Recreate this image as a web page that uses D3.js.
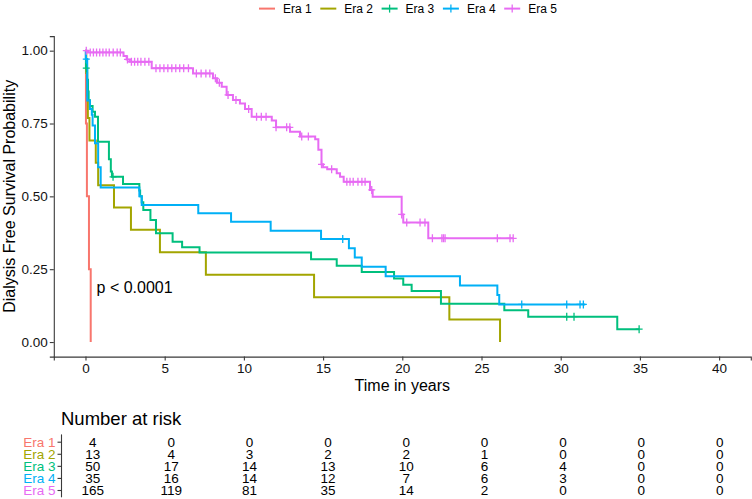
<!DOCTYPE html>
<html>
<head>
<meta charset="utf-8">
<script src="https://cdn.jsdelivr.net/npm/d3@7"></script>
<style>
  body { margin: 0; background: #fff; }
  svg { font-family: "Liberation Sans", Arial, sans-serif; }
</style>
</head>
<body>
<svg id="chart" width="752" height="499"></svg>
<script>
var eras = ["Era 1", "Era 2", "Era 3", "Era 4", "Era 5"];
var colors = ["#F8766D", "#A3A500", "#00BF7D", "#00B0F6", "#E76BF3"];

var times1 = [0, 0.03, 0.09, 0.22, 0.33];
var surv1 = [1, 0.75, 0.5, 0.25, 0];
var censor1 = [];

var times2 = [0, 0.05, 0.1, 0.15, 0.25, 0.65, 0.8, 1.8, 2.87, 4.7, 7.6, 14.43, 22.97, 26.17];
var surv2 = [1, 0.923, 0.846, 0.769, 0.692, 0.615, 0.538, 0.462, 0.385, 0.308, 0.231, 0.154, 0.077, 0];
var censor2 = [];

var times3 = [0, 0.03, 0.11, 0.16, 0.2, 0.28, 0.45, 0.6, 0.79, 1.48, 1.6, 1.67, 2.37, 3.4, 3.45, 3.55, 3.65, 4.1, 4.45,
  5.5, 6.1, 7.2, 14.24, 15.86, 17.44, 19.48, 20.06, 20.59, 22.44, 26.44, 27.95, 33.57, 34.95];
var surv3 = [1, 0.94, 0.9, 0.86, 0.83, 0.81, 0.79, 0.773, 0.687, 0.627, 0.585, 0.567, 0.542, 0.52, 0.5, 0.48, 0.453, 0.419, 0.373,
  0.344, 0.325, 0.307, 0.284, 0.262, 0.24, 0.218, 0.197, 0.175, 0.131, 0.109, 0.087, 0.044, 0.044];
var censor3 = [0.05, 1.74, 30.38, 30.84, 34.95];

var times4 = [0, 0.02, 0.11, 0.28, 0.4, 0.45, 0.6, 0.8, 0.96, 3.4, 3.55, 7.12, 9.19, 11.69, 14.87, 16.63, 17.0, 17.44,
  18.95, 23.64, 26.0, 26.12, 31.55];
var surv4 = [1, 0.971, 0.829, 0.8, 0.78, 0.743, 0.682, 0.6, 0.53, 0.5, 0.47, 0.442, 0.413, 0.382, 0.354, 0.322, 0.29, 0.258,
  0.226, 0.194, 0.161, 0.129, 0.129];
var censor4 = [0.05, 16.24, 27.54, 30.38, 31.22, 31.43];

var times5 = [0, 0.16, 2.4, 2.6, 2.8, 4.18, 6.79, 8.05, 8.3, 8.6, 8.91, 9.31, 9.75, 10.07, 10.49, 11.76, 12.03, 12.91,
  13.54, 14.5, 14.7, 14.9, 15.0, 15.26, 15.86, 16.07, 16.3, 17.96, 18.13, 19.96, 20.06, 21.64, 27.0];
var surv5 = [1, 0.994, 0.982, 0.97, 0.962, 0.94, 0.922, 0.905, 0.89, 0.876, 0.848, 0.831, 0.819, 0.8, 0.773, 0.76, 0.737, 0.722,
  0.705, 0.696, 0.66, 0.61, 0.6, 0.593, 0.579, 0.567, 0.55, 0.522, 0.499, 0.438, 0.41, 0.356, 0.356];
var censor5 = [0.05, 0.3, 0.5, 0.7, 0.9, 1.1, 1.3, 1.5, 1.75, 2.0, 2.2, 2.65, 2.9, 3.1, 3.3, 3.5, 3.75, 4.0, 4.45, 4.7,
  4.95, 5.2, 5.45, 5.7, 5.95, 6.2, 6.5, 7.0, 7.3, 7.6, 7.85, 8.2, 8.45, 9.0, 9.5, 10.3, 10.8, 11.1, 11.4, 12.03, 12.7,
  12.9, 13.65, 14.07, 14.9, 15.54, 16.5, 16.7, 16.9, 17.2, 17.45, 17.65, 18.07, 19.96, 20.28, 21.12, 21.43, 21.9, 22.5,
  22.6, 22.7, 26.0, 26.8, 27.0];

var xTicks = [0, 5, 10, 15, 20, 25, 30, 35, 40];
var yTicks = [0, 0.25, 0.5, 0.75, 1];

var risk1 = [4, 0, 0, 0, 0, 0, 0, 0, 0];
var risk2 = [13, 4, 3, 2, 2, 1, 0, 0, 0];
var risk3 = [50, 17, 14, 13, 10, 6, 4, 0, 0];
var risk4 = [35, 16, 14, 12, 7, 6, 3, 0, 0];
var risk5 = [165, 119, 81, 35, 14, 2, 0, 0, 0];

var curves = [
  {times: times1, surv: surv1, censor: censor1},
  {times: times2, surv: surv2, censor: censor2},
  {times: times3, surv: surv3, censor: censor3},
  {times: times4, surv: surv4, censor: censor4},
  {times: times5, surv: surv5, censor: censor5}
];
var risks = [risk1, risk2, risk3, risk4, risk5];

var svg = d3.select("#chart");
var axisCol = "#3a3a3a";

var x = d3.scaleLinear().domain([-2, 42]).range([53.8, 750.8]);
var y = d3.scaleLinear().domain([-0.05, 1.05]).range([356.6, 36.1]);

function survAt(c, t) {
  var i = d3.bisectRight(c.times, t) - 1;
  return c.surv[Math.max(i, 0)];
}

// axes
var xAxis = svg.append("g")
  .attr("transform", "translate(0," + y(-0.05) + ")")
  .call(d3.axisBottom(x).tickValues(xTicks).tickSize(4).tickPadding(3));
var yAxis = svg.append("g")
  .attr("transform", "translate(" + x(-2) + ",0)")
  .call(d3.axisLeft(y).tickValues(yTicks).tickSize(4).tickPadding(2).tickFormat(d3.format(".2f")));

[xAxis, yAxis].forEach(function(a) {
  a.select(".domain").attr("stroke", axisCol).attr("stroke-width", 1.1);
  a.selectAll(".tick line").attr("stroke", axisCol).attr("stroke-width", 1.1);
  a.selectAll(".tick text").attr("fill", "#111").style("font-size", "13.5px").style("font-family", "Liberation Sans, Arial, sans-serif");
});

svg.append("text")
  .attr("x", (x(-2) + x(42)) / 2)
  .attr("y", 391)
  .attr("text-anchor", "middle")
  .style("font-size", "16px")
  .text("Time in years");

svg.append("text")
  .attr("transform", "translate(14.5," + y(0.5) + ") rotate(-90)")
  .attr("text-anchor", "middle")
  .style("font-size", "16px")
  .text("Dialysis Free Survival Probability");

// survival curves
var line = d3.line()
  .x(function(d) { return x(d[0]); })
  .y(function(d) { return y(d[1]); })
  .curve(d3.curveStepAfter);

curves.forEach(function(c, i) {
  var pts = c.times.map(function(t, j) { return [t, c.surv[j]]; });
  svg.append("path")
    .attr("d", line(pts))
    .attr("fill", "none")
    .attr("stroke", colors[i])
    .attr("stroke-width", 2);
});

curves.forEach(function(c, i) {
  svg.append("g")
    .selectAll("path")
    .data(c.censor)
    .enter()
    .append("path")
    .attr("d", function(t) {
      var cx = x(t), cy = y(survAt(c, t));
      return "M" + (cx - 3.5) + "," + cy + "H" + (cx + 3.5) + "M" + cx + "," + (cy - 4) + "V" + (cy + 4);
    })
    .attr("stroke", colors[i])
    .attr("stroke-width", 1.3);
});

svg.append("text")
  .attr("x", x(0.7))
  .attr("y", y(0.17))
  .style("font-size", "16px")
  .text("p < 0.0001");

// legend
var legend = svg.append("g").selectAll("g")
  .data(eras)
  .enter()
  .append("g")
  .attr("transform", function(d, i) { return "translate(" + (259 + i * 61.3) + ",8.6)"; });
legend.append("line")
  .attr("x1", 0).attr("x2", 16)
  .attr("stroke", function(d, i) { return colors[i]; })
  .attr("stroke-width", 2);
legend.filter(function(d, i) { return curves[i].censor.length > 0; })
  .append("path")
  .attr("d", "M8,-4V4")
  .attr("stroke", function(d) { return colors[eras.indexOf(d)]; })
  .attr("stroke-width", 1.3);
legend.append("text")
  .attr("x", 24)
  .attr("y", 4.2)
  .style("font-size", "12px")
  .text(function(d) { return d; });

// number at risk table
var xt = d3.scaleLinear().domain([-2, 42]).range([61.5, 751]);
var yt = d3.scalePoint().domain(eras).range([441.7, 490]);

svg.append("text")
  .attr("x", 61)
  .attr("y", 425)
  .style("font-size", "18.5px")
  .text("Number at risk");

var tAxis = svg.append("g")
  .attr("transform", "translate(61.5,0)")
  .call(d3.axisLeft(yt).tickSize(4).tickPadding(2));
tAxis.select(".domain").attr("d", "M0," + (yt("Era 1") - 7.3) + "V" + (yt("Era 5") + 7.3)).attr("stroke", axisCol).attr("stroke-width", 1.1);
tAxis.selectAll(".tick line").attr("stroke", axisCol).attr("stroke-width", 1.1);
tAxis.selectAll(".tick text")
  .attr("fill", function(d) { return colors[eras.indexOf(d)]; })
  .style("font-size", "13.5px")
  .style("font-family", "Liberation Sans, Arial, sans-serif");

risks.forEach(function(r, i) {
  svg.append("g")
    .selectAll("text")
    .data(r)
    .enter()
    .append("text")
    .attr("x", function(d, j) { return xt(xTicks[j]); })
    .attr("y", yt(eras[i]) + 4.8)
    .attr("text-anchor", "middle")
    .style("font-size", "13.5px")
    .text(function(d) { return d; });
});
</script>
</body>
</html>
